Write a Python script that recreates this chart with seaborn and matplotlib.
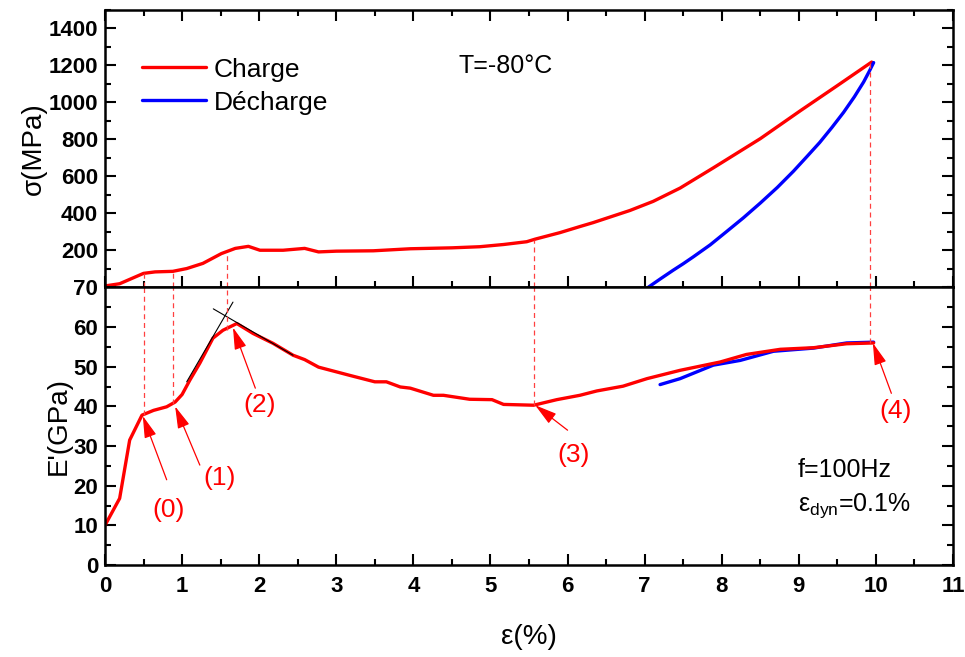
import matplotlib
matplotlib.use("Agg")
import matplotlib.pyplot as plt
from matplotlib.ticker import MultipleLocator
import seaborn as sns
import pandas as pd

# stress-strain, charge (loading)
eps_charge = [0, 0.19, 0.5, 0.65, 0.88, 1.06, 1.27, 1.51, 1.69, 1.86, 2.01, 2.31, 2.59,
              2.77, 3.0, 3.48, 3.96, 4.5, 4.86, 5.17, 5.47, 5.58, 5.90, 6.16, 6.33,
              6.81, 7.11, 7.46, 7.89, 8.50, 9.02, 9.49, 9.945]
sigma_charge = [8, 20, 76, 84, 87, 102, 130, 183, 211, 222, 201, 201, 211, 192, 196,
                198, 209, 214, 220, 232, 247, 261, 296, 329, 350, 416, 465, 537, 646,
                804, 955, 1088, 1218]

# stress-strain, decharge (unloading)
eps_decharge = [9.97, 9.91, 9.84, 9.72, 9.58, 9.43, 9.27, 9.10, 8.93, 8.72, 8.50,
                8.28, 8.06, 7.85, 7.63, 7.50, 7.37, 7.21, 7.05]
sigma_decharge = [1215, 1165, 1110, 1030, 946, 865, 783, 705, 628, 540, 456,
                  376, 301, 230, 165, 128, 93, 48, 2]

# storage modulus E'
eps_E_charge = [0, 0.19, 0.32, 0.48, 0.63, 0.80, 0.91, 1.0, 1.10, 1.23, 1.40, 1.53, 1.71,
                1.92, 2.18, 2.44, 2.59, 2.77, 3.18, 3.50, 3.65, 3.83, 3.96, 4.26, 4.39,
                4.73, 5.02, 5.17, 5.56, 5.86, 6.16, 6.38, 6.72, 7.03, 7.46, 7.98, 8.32,
                8.76, 9.19, 9.62, 9.97]
E_charge = [10, 16.8, 31.5, 37.8, 39, 39.9, 41.1, 43, 46.6, 50.9, 57.2, 59.2, 60.9, 58.4,
            55.9, 52.9, 51.8, 49.9, 47.8, 46.2, 46.2, 44.9, 44.6, 42.8, 42.8, 41.8, 41.7,
            40.5, 40.3, 41.7, 42.8, 43.9, 45.1, 47, 49.1, 51.2, 53.1, 54.4, 54.8, 55.8, 56]
eps_E_decharge = [7.2, 7.46, 7.89, 8.24, 8.67, 9.19, 9.62, 9.97]
E_decharge = [45.5, 47, 50.4, 51.6, 53.9, 54.7, 56, 56.2]

# transition points (0)..(4)
point_labels = ["(0)", "(1)", "(2)", "(3)", "(4)"]
point_eps = [0.5, 0.88, 1.58, 5.57, 9.92]
point_sigma = [76, 87, 190, 258, 1218]
point_E = [37.8, 40.5, 59.2, 40.4, 56]
arrow_tip = [(0.49, 37.6), (0.91, 40.0), (1.66, 59.9), (5.58, 40.3), (9.96, 56.0)]
arrow_tail = [(0.80, 21.5), (1.23, 25.2), (1.95, 44.6), (6.0, 34.0), (10.2, 43.3)]
label_pos = [(0.82, 13.9), (1.49, 22.0), (2.01, 40.3), (6.08, 27.7), (10.25, 38.8)]

# tangent construction lines for point (2)
tangent1_eps = [1.06, 1.66]
tangent1_E = [46.2, 66.3]
tangent2_eps = [1.405, 2.44]
tangent2_E = [64.6, 52.9]

sns.set_style("ticks")
plt.rcParams['font.family'] = ['Liberation Sans', 'DejaVu Sans']
plt.rcParams['mathtext.fontset'] = 'custom'
plt.rcParams['mathtext.rm'] = 'Liberation Sans'
plt.rcParams['axes.edgecolor'] = 'black'
plt.rcParams['xtick.color'] = 'black'
plt.rcParams['ytick.color'] = 'black'
plt.rcParams['text.color'] = 'black'
plt.rcParams['axes.labelcolor'] = 'black'

red = "#ff0000"
blue = "#0000ff"

fig, (ax1, ax2) = plt.subplots(2, 1, sharex=True, figsize=(9.65, 6.57), dpi=100)
fig.subplots_adjust(left=0.1088, right=0.9876, top=0.985, bottom=0.140, hspace=0)

charge = pd.DataFrame({"eps": eps_charge, "sigma": sigma_charge})
decharge = pd.DataFrame({"eps": eps_decharge, "sigma": sigma_decharge})
modE_c = pd.DataFrame({"eps": eps_E_charge, "E": E_charge})
modE_d = pd.DataFrame({"eps": eps_E_decharge, "E": E_decharge})

sns.lineplot(data=charge, x="eps", y="sigma", ax=ax1, color=red, lw=2.4,
             sort=False, estimator=None, label="Charge")
sns.lineplot(data=decharge, x="eps", y="sigma", ax=ax1, color=blue, lw=2.4,
             sort=False, estimator=None, label="Décharge")
sns.lineplot(data=modE_d, x="eps", y="E", ax=ax2, color=blue, lw=2.4,
             sort=False, estimator=None, legend=False)
sns.lineplot(data=modE_c, x="eps", y="E", ax=ax2, color=red, lw=2.4,
             sort=False, estimator=None, legend=False)

# tangent lines
ax2.plot(tangent1_eps, tangent1_E, color="black", lw=0.8)
ax2.plot(tangent2_eps, tangent2_E, color="black", lw=0.8)

# dashed guides linking both panels
dash_kw = dict(color="#ff4040", lw=0.9, linestyles=(0, (4, 3)))
ax1.vlines(point_eps, 0, point_sigma, **dash_kw)
ax2.vlines(point_eps, point_E, 70, **dash_kw)

# arrows + labels
for lab, tip, tail, pos in zip(point_labels, arrow_tip, arrow_tail, label_pos):
    ax2.annotate("", xy=tip, xytext=tail,
                 arrowprops=dict(arrowstyle="-|>,head_length=0.9,head_width=0.25",
                                 mutation_scale=15, color=red, lw=0.9,
                                 shrinkA=0, shrinkB=0))
    ax2.text(pos[0], pos[1], lab, color=red, fontsize=19, ha="center", va="center")

ax1.text(4.58, 1198, "T=-80°C", fontsize=18, va="center", ha="left")
ax2.text(8.99, 23.9, "f=100Hz", fontsize=18, va="center", ha="left")
ax2.text(8.99, 15.0, "ε$_{\\mathregular{dyn}}$=0.1%", fontsize=18, va="center", ha="left")

# axes
ax1.set_xlim(0, 11)
ax1.set_ylim(0, 1500)
ax2.set_ylim(0, 70)
ax1.set_yticks(range(200, 1401, 200))
ax1.yaxis.set_minor_locator(MultipleLocator(100))
ax2.set_yticks(range(0, 71, 10))
ax2.yaxis.set_minor_locator(MultipleLocator(5))
ax2.set_xticks(range(0, 12))
ax2.xaxis.set_minor_locator(MultipleLocator(0.5))

for ax in (ax1, ax2):
    for sp in ax.spines.values():
        sp.set_linewidth(1.8)
        sp.set_color("black")
    ax.tick_params(which="both", direction="in", width=1.5, right=True)
    ax.tick_params(which="major", length=8)
    ax.tick_params(which="minor", length=4.5)
    ax.tick_params(axis="y", labelsize=16, pad=5)
    ax.tick_params(axis="x", labelsize=16, pad=8)
    for t in ax.get_xticklabels() + ax.get_yticklabels():
        t.set_fontweight("bold")
ax1.tick_params(which="both", top=True, bottom=True, labelbottom=False)
ax2.tick_params(which="both", top=False)

ax1.set_xlabel("")
ax1.set_ylabel("σ(MPa)", fontsize=20, labelpad=1)
ax2.set_ylabel("E'(GPa)", fontsize=20, labelpad=1)
ax2.set_xlabel("ε(%)", fontsize=20, labelpad=19)

ax1.legend(loc="upper left", bbox_to_anchor=(0.044, 0.828), frameon=False, fontsize=19,
           handlelength=2.4, handletextpad=0.3, labelspacing=0.34, borderaxespad=0,
           borderpad=0)

fig.savefig("out.png", dpi=100)
